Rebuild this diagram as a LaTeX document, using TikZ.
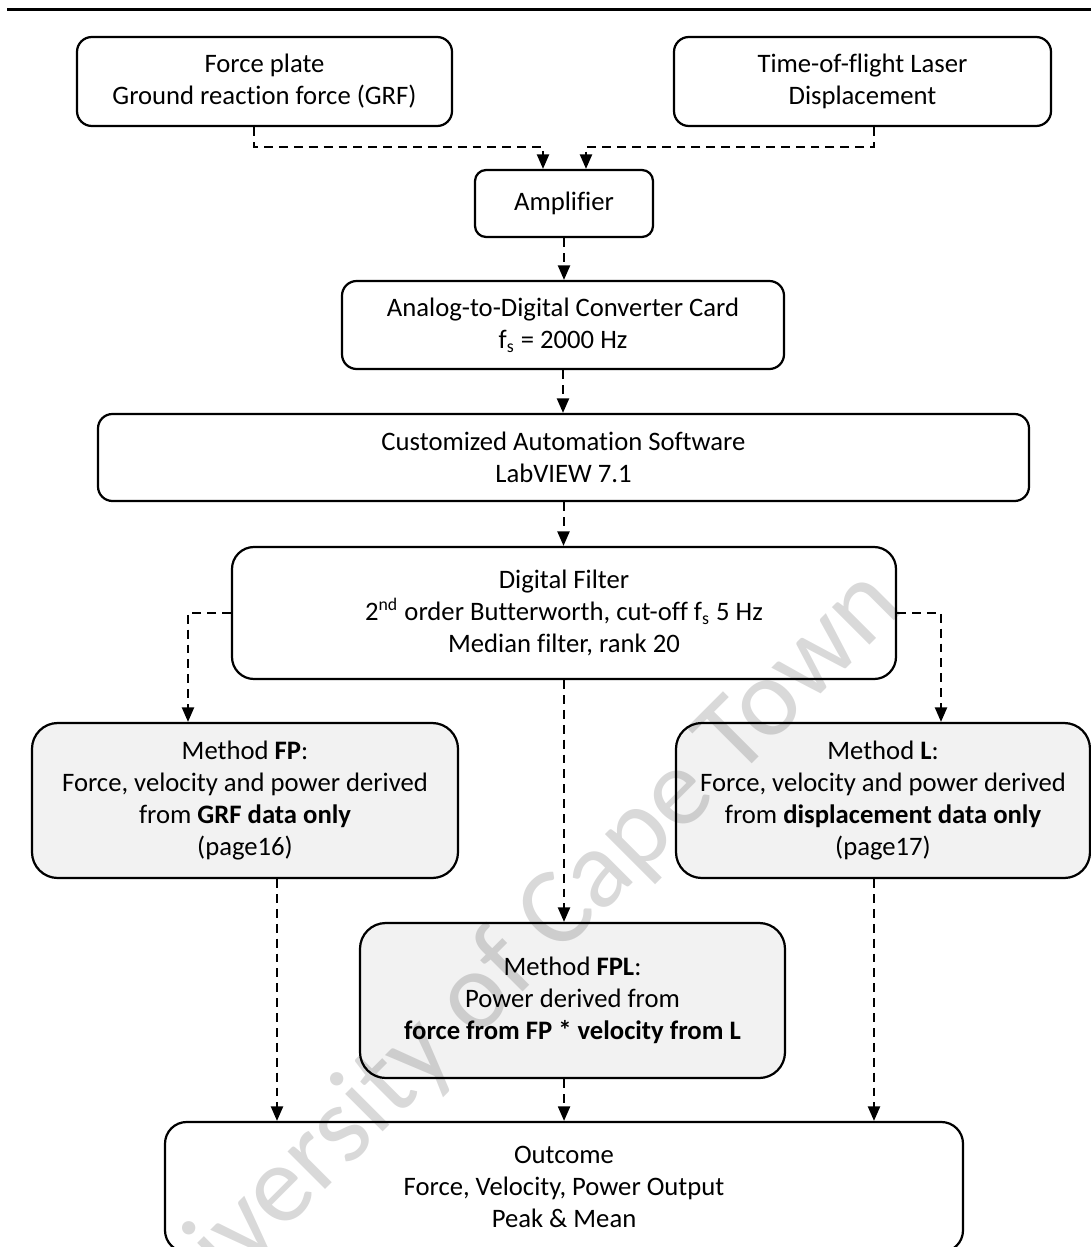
\documentclass[tikz,border=0pt]{standalone}
\usepackage{fontspec}
\setmainfont{Carlito}[Ligatures=NoCommon]
\usepackage{tikz}
\usetikzlibrary{arrows.meta}

\tikzset{
  box/.style={draw, line width=1pt, align=center, inner sep=0pt,
    font=\fontsize{12}{14.4}\selectfont},
  method/.style={box, fill=black!5},
  link/.style={line width=0.9pt, dash pattern=on 4pt off 2.7pt,
    -{Triangle[length=6.5pt,width=5.4pt]}}
}

\begin{document}
\begin{tikzpicture}[x=0.45pt,y=-0.45pt]
    \useasboundingbox (0,0) rectangle (1091,1247);

    % Rule at the top of the page
    \draw[line width=1.35pt] (7,9.5) -- (1091,9.5);

    % Sensors
    \node[box, minimum width=168.75pt, minimum height=40.05pt, rounded corners=6.7pt]
        (fp) at (264.5,81.5) {Force plate\\Ground reaction force (GRF)};
    \node[box, minimum width=169.65pt, minimum height=40.05pt, rounded corners=6.7pt]
        (tof) at (862.5,81.5) {Time-of-flight Laser\\Displacement};

    % Acquisition chain
    \node[box, minimum width=80.1pt, minimum height=30.15pt, rounded corners=5pt]
        (amp) at (564,203.5) {Amplifier};
    \node[box, minimum width=198.9pt, minimum height=39.6pt, rounded corners=6.6pt]
        (adc) at (563,325) {Analog-to-Digital Converter Card\\f\textsubscript{s} = 2000 Hz};
    \node[box, minimum width=418.95pt, minimum height=39.15pt, rounded corners=6.5pt]
        (sw) at (563.5,457.5) {Customized Automation Software\\LabVIEW 7.1};
    \node[box, minimum width=298.8pt, minimum height=59.4pt, rounded corners=9.9pt]
        (df) at (564,613) {Digital Filter\\2\textsuperscript{nd} order Butterworth, cut-off f\textsubscript{s} 5 Hz\\Median filter, rank 20};

    % Methods
    \node[method, minimum width=191.7pt, minimum height=69.75pt, rounded corners=11.6pt]
        (fpm) at (245,800.5) {Method \textbf{FP}:\\Force, velocity and power derived\\from \textbf{GRF data only}\\(page16)};
    \node[method, minimum width=186.3pt, minimum height=69.75pt, rounded corners=11.6pt]
        (lm) at (883,800.5) {Method \textbf{L}:\\Force, velocity and power derived\\from \textbf{displacement data only}\\(page17)};
    \node[method, minimum width=191.25pt, minimum height=69.75pt, rounded corners=11.6pt]
        (fpl) at (572.5,1000.5) {Method \textbf{FPL}:\\Power derived from\\\textbf{force from FP * velocity from L}};

    % Outcome
    \node[box, minimum width=359.1pt, minimum height=58.5pt, rounded corners=9.75pt]
        (out) at (564,1187) {Outcome\\Force, Velocity, Power Output\\Peak \& Mean};

    % Dashed arrows
    \draw[link] ([xshift=-4.7pt]fp.south) |- ([xshift=-9.45pt,yshift=9.9pt]amp.north) -- ([xshift=-9.45pt]amp.north);
    \draw[link] ([xshift=5.2pt]tof.south) |- ([xshift=9.9pt,yshift=9.9pt]amp.north) -- ([xshift=9.9pt]amp.north);
    \draw[link] (amp.south) -- (amp.south |- adc.north);
    \draw[link] (adc.south) -- (adc.south |- sw.north);
    \draw[link] (sw.south) -- (sw.south |- df.north);
    \draw[link] (df.west) -| ([xshift=-25.65pt]fpm.north);
    \draw[link] (df.east) -| ([xshift=26.1pt]lm.north);
    \draw[link] (df.south) -- (df.south |- fpl.north);
    \draw[link] ([xshift=14.4pt]fpm.south) -- ([xshift=14.4pt]fpm.south |- out.north);
    \draw[link] ([xshift=-3.8pt]fpl.south) -- ([xshift=-3.8pt]fpl.south |- out.north);
    \draw[link] ([xshift=-4.05pt]lm.south) -- ([xshift=-4.05pt]lm.south |- out.north);

    % Watermark
    \node[rotate=45, opacity=0.15, font=\fontsize{50}{60}\selectfont]
        (wm) at (501,973) {University of Cape Town};
\end{tikzpicture}
\end{document}
